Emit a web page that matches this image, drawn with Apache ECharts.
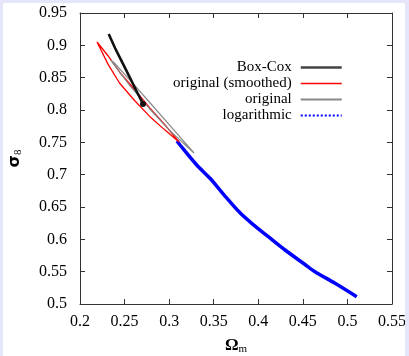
<!DOCTYPE html>
<html>
<head>
<meta charset="utf-8">
<script src="https://cdn.jsdelivr.net/npm/echarts@6/dist/echarts.min.js"></script>
<style>
  html, body { margin: 0; padding: 0; background: #e6e6fa; }
  #chart { position: absolute; left: 3px; top: 3px; width: 402px; height: 353px; background: #fff; }
</style>
</head>
<body>
<div id="chart"></div>
<script>
// axis ticks
const xTicks = [0.2, 0.25, 0.3, 0.35, 0.4, 0.45, 0.5, 0.55];
const yTicks = [0.5, 0.55, 0.6, 0.65, 0.7, 0.75, 0.8, 0.85, 0.9, 0.95];

// contours (Omega_m, sigma_8)
const boxCox = [
  [0.2322, 0.9175], [0.2393, 0.8959], [0.2471, 0.8743],
  [0.2550, 0.8527], [0.2628, 0.8309], [0.2707, 0.8093]
];
const smoothed = [
  [0.2191, 0.9052], [0.2314, 0.8839], [0.2443, 0.8588], [0.2617, 0.8309],
  [0.2785, 0.8027], [0.2954, 0.7769], [0.3111, 0.7505],
  [0.2954, 0.7689], [0.2785, 0.7897], [0.2617, 0.8139], [0.2443, 0.8418],
  [0.2314, 0.8709], [0.2191, 0.9052]
];
const original = [
  [0.2345, 0.8770], [0.2380, 0.8735], [0.2561, 0.8463], [0.2785, 0.8112],
  [0.3010, 0.7758], [0.3279, 0.7335],
  [0.3010, 0.7678], [0.2785, 0.8012], [0.2561, 0.8373], [0.2345, 0.8770]
];
const logarithmic = [
  [0.3088, 0.7521], [0.3122, 0.7459], [0.3309, 0.7149], [0.3458, 0.6944],
  [0.3608, 0.6700], [0.3795, 0.6410], [0.3926, 0.6248], [0.4112, 0.6041],
  [0.4300, 0.5835], [0.4524, 0.5611], [0.4636, 0.5499], [0.4861, 0.5320],
  [0.5104, 0.5113]
];

const chart = echarts.init(document.getElementById('chart'));
const font = 'Liberation Serif';

const axisBase = {
  type: 'value',
  axisLine: { show: true, onZero: false, lineStyle: { color: '#333', width: 1 } },
  axisTick: { show: true, inside: true, length: 5, lineStyle: { color: '#333' } },
  splitLine: { show: false }
};
const xRange = {
  min: xTicks[0], max: xTicks[xTicks.length - 1], interval: 0.05
};
const yRange = {
  min: yTicks[0], max: yTicks[yTicks.length - 1], interval: 0.05
};
const noMarker = { color: 'transparent', borderColor: 'transparent', borderWidth: 0, opacity: 0 };

const option = {
  animation: false,
  backgroundColor: '#fff',
  grid: { left: 77, top: 10, right: 13, bottom: 52, containLabel: false, outerBoundsMode: 'none' },
  legend: {
    orient: 'vertical',
    align: 'right',
    right: 62,
    top: 57,
    padding: 0,
    itemWidth: 41,
    itemHeight: 14,
    itemGap: 1,
    textStyle: { fontFamily: font, fontSize: 15, color: '#000', padding: [0, 4, 0, 0] },
    data: [
      { name: 'Box-Cox', itemStyle: noMarker, lineStyle: { color: '#444', width: 2.5 } },
      { name: 'original (smoothed)', itemStyle: noMarker, lineStyle: { color: '#ff0000', width: 1.5 } },
      { name: 'original', itemStyle: noMarker, lineStyle: { color: '#888', width: 2 } },
      { name: 'logarithmic', itemStyle: noMarker, lineStyle: { color: '#0000ff', width: 2, type: 'dotted' } }
    ]
  },
  xAxis: [
    Object.assign({}, axisBase, xRange, {
      position: 'bottom',
      name: '{a|Ω}{b|m}',
      nameLocation: 'middle',
      nameGap: 32,
      nameTextStyle: {
        rich: {
          a: { fontFamily: font, fontSize: 17, fontWeight: 'bold', color: '#000' },
          b: { fontFamily: font, fontSize: 11, color: '#000', padding: [8, 0, 0, 0] }
        }
      },
      axisLabel: { fontFamily: font, fontSize: 16, color: '#000', margin: 10 }
    }),
    Object.assign({}, axisBase, xRange, {
      position: 'top',
      axisLabel: { show: false }
    })
  ],
  yAxis: [
    Object.assign({}, axisBase, yRange, {
      position: 'left',
      name: '{a|σ}{b|8}',
      nameLocation: 'middle',
      nameGap: 56,
      nameTextStyle: {
        rich: {
          a: { fontFamily: 'DejaVu Sans', fontSize: 16, fontWeight: 'bold', color: '#000' },
          b: { fontFamily: font, fontSize: 11, color: '#000', padding: [8, 0, 0, 0] }
        }
      },
      axisLabel: { fontFamily: font, fontSize: 16, color: '#000', margin: 13 }
    }),
    Object.assign({}, axisBase, yRange, {
      position: 'right',
      axisLabel: { show: false }
    })
  ],
  series: [
    {
      name: 'Box-Cox', type: 'line', symbol: 'none',
      lineStyle: { color: '#111', width: 2.6 }, itemStyle: { color: '#111' },
      data: boxCox.map((p, i) => i === boxCox.length - 1
        ? { value: p, symbol: 'circle', symbolSize: 6 }
        : p),
      z: 4
    },
    {
      name: 'original (smoothed)', type: 'line', symbol: 'none',
      lineStyle: { color: '#ff0000', width: 1.3 }, itemStyle: { color: '#ff0000' },
      data: smoothed, z: 2
    },
    {
      name: 'original', type: 'line', symbol: 'none',
      lineStyle: { color: '#888', width: 1.2 }, itemStyle: { color: '#888' },
      data: original, z: 3
    },
    {
      name: 'logarithmic', type: 'line', symbol: 'none', smooth: 0.3,
      lineStyle: { color: '#0000ff', width: 3.5 }, itemStyle: { color: '#0000ff' },
      data: logarithmic, z: 1
    }
  ]
};

chart.setOption(option);
</script>
</body>
</html>
